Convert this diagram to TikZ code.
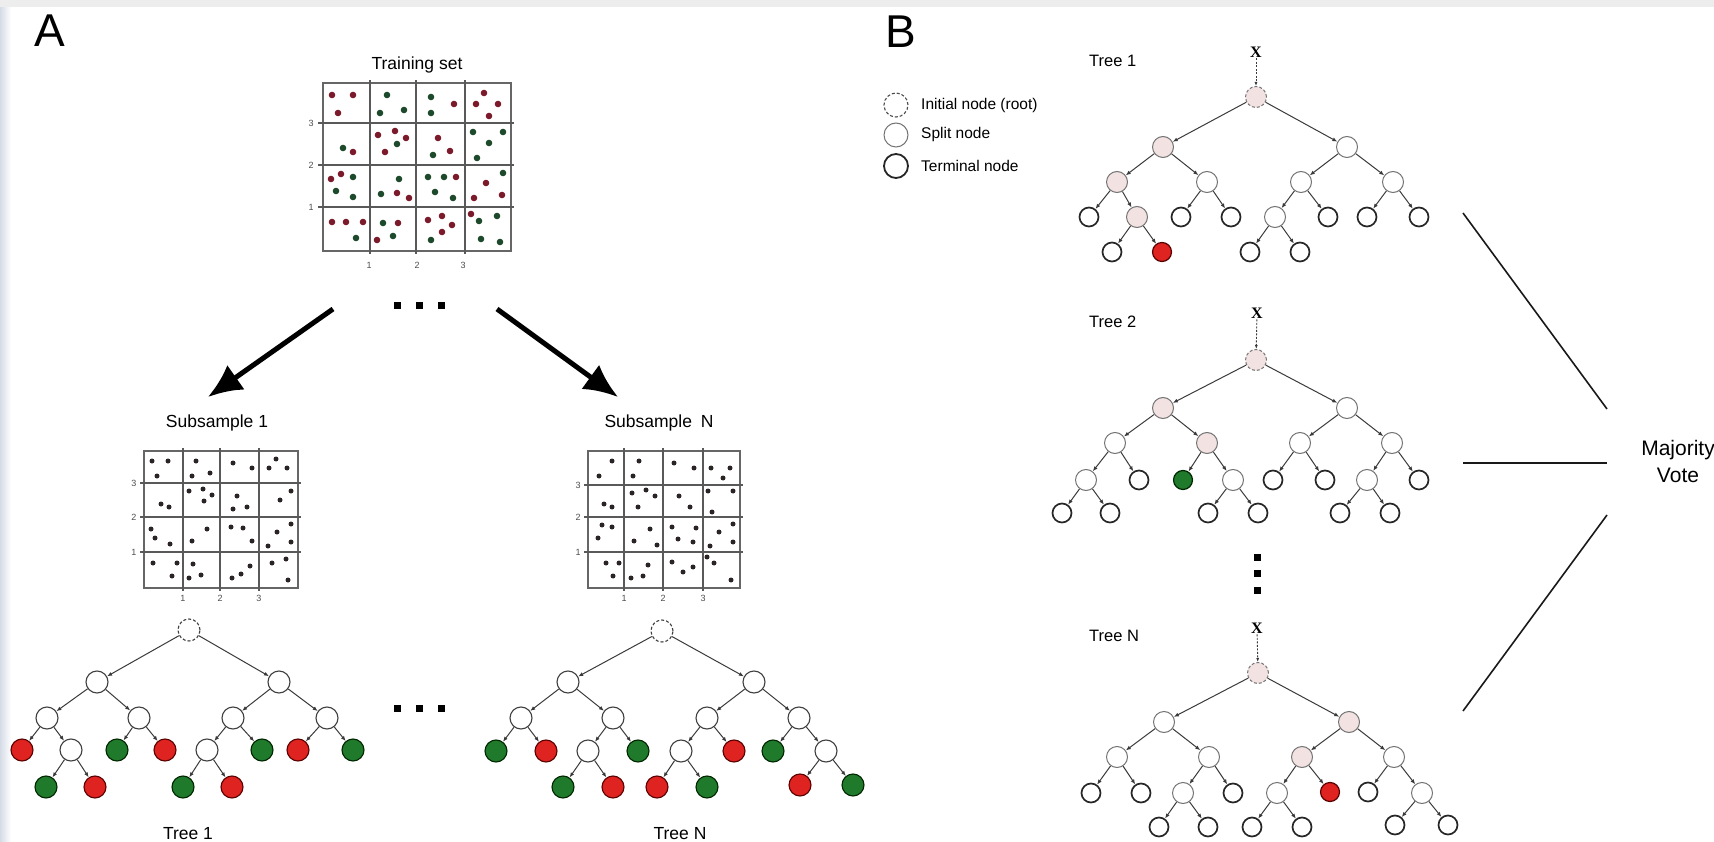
\documentclass[tikz,border=0pt]{standalone}
\usepackage{fontspec}
\setmainfont{Liberation Sans}
\newfontfamily\xserif{Liberation Serif}
\usepackage{tikz}
\usetikzlibrary{arrows.meta}

\definecolor{leafred}{HTML}{DE2320}
\definecolor{leafgreen}{HTML}{1F7A2B}
\definecolor{dotred}{HTML}{7B1A2A}
\definecolor{dotgreen}{HTML}{1E4A2C}
\definecolor{dotdark}{HTML}{2A2424}
\definecolor{pathpink}{HTML}{F2E2E2}
\definecolor{edgegray}{HTML}{3A3A3A}
\definecolor{sideband}{HTML}{D5DBE6}

\newcommand\fntpanel{\fontsize{46}{50}\selectfont}
\newcommand\fnttitle{\fontsize{17.5}{20}\selectfont}
\newcommand\fnttick{\fontsize{9}{10}\selectfont}
\newcommand\fntlegend{\fontsize{15.5}{18}\selectfont}
\newcommand\fnttree{\fontsize{16.5}{19}\selectfont}
\newcommand\fntvote{\fontsize{21}{27}\selectfont}
\newcommand\fntx{\xserif\bfseries\fontsize{16}{17}\selectfont}

\tikzset{
    nd/.style={circle, draw=black!75, line width=1.1pt, fill=white, minimum size=22pt, inner sep=0pt},
    rootA/.style={nd, dash pattern=on 3pt off 2pt},
    redA/.style={nd, fill=leafred, draw=red!35!black},
    greenA/.style={nd, fill=leafgreen, draw=green!15!black},
    splitB/.style={nd, minimum size=21pt, draw=black!55, line width=1pt},
    pathB/.style={splitB, fill=pathpink},
    rootB/.style={pathB, dash pattern=on 3pt off 2pt},
    termB/.style={nd, minimum size=19pt, line width=1.7pt, draw=black!85},
    redB/.style={termB, fill=leafred, draw=red!35!black, line width=1.2pt},
    greenB/.style={termB, fill=leafgreen, draw=green!15!black, line width=1.2pt},
    link/.style={-{Latex[length=5pt,width=4pt]}, draw=edgegray, line width=1pt},
    xlink/.style={-{Latex[length=4pt,width=3pt]}, draw=edgegray, line width=0.9pt, dash pattern=on 2pt off 1.5pt},
    bigarrow/.style={-{Latex[length=34pt,width=30pt]}, line width=5pt},
    votelink/.style={line width=1.6pt, draw=black!90},
    gridbox/.style={draw=black!60, line width=1.2pt},
    gridline/.style={draw=black!65, line width=1.4pt},
    ticklbl/.style={font=\fnttick, text=black!70, inner sep=0pt},
    sq/.style={rectangle, fill=black, minimum size=7pt, inner sep=0pt},
    title/.style={font=\fnttitle, inner sep=0pt}
}

\begin{document}
\begin{tikzpicture}[x=1pt, y=-1pt, >=latex]
            \useasboundingbox (0,0) rectangle (1714,842);
            \fill[left color=sideband, right color=white] (0,0) rectangle (11,842);
            \fill[black!7] (0,0) rectangle (1714,7);

            % A
            \node[font=\fntpanel, inner sep=0pt] (lblA) at (50,31) {A};
            \node[title] (ttrain) at (417,65) {Training set};
            \draw[gridbox] (323,83) rectangle (511,251);
            \foreach \x in {370,416,465} \draw[gridline] (\x,80) -- (\x,254);
            \foreach \y in {123,165,207} \draw[gridline] (318,\y) -- (514,\y);
            \foreach \y/\t in {123/3,165/2,207/1} \node[ticklbl] (tr-y\t) at (311,\y) {\t};
            \foreach \x/\t in {369/1,417/2,463/3} \node[ticklbl] (tr-x\t) at (\x,265) {\t};
            \foreach \x/\y in {332/95,353/95,338/113,454/104,484/93,476/104,498/104,489/116,353/152,378/135,395/131,406/138,385/152,438/138,450/151,331/179,341/174,397/193,409/198,456/177,486/183,502/195,474/198,332/222,346/222,363/222,398/223,377/240,428/220,442/216,452/225,442/232,471/214}
                \fill[dotred] (\x,\y) circle[radius=3.3pt];
            \foreach \x/\y in {387/95,380/113,404/110,431/97,431/113,343/148,397/144,433/155,473/132,503/132,489/143,477/158,353/177,336/191,353/197,399/179,381/194,428/177,444/177,435/192,453/198,503/173,356/238,383/223,393/236,431/240,479/221,497/216,481/239,500/242}
                \fill[dotgreen] (\x,\y) circle[radius=3.3pt];

            \foreach \i/\x in {1/397,2/419,3/441} \node[sq] (dtop-\i) at (\x,306) {};
            \coordinate (arL0) at (333,309);
            \coordinate (arL1) at (208,397);
            \coordinate (arR0) at (497,309);
            \coordinate (arR1) at (618,397);
            \draw[bigarrow] (arL0) -- (arL1);
            \draw[bigarrow] (arR0) -- (arR1);

            % subsample 1
            \node[title] (tsub1) at (217,423) {Subsample 1};
            \draw[gridbox] (144,451) rectangle (298,588);
            \foreach \x in {183,220,259} \draw[gridline] (\x,448) -- (\x,591);
            \foreach \y in {483,517,552} \draw[gridline] (140,\y) -- (301,\y);
            \foreach \y/\t in {483/3,517/2,552/1} \node[ticklbl] (s1-y\t) at (134,\y) {\t};
            \foreach \x/\t in {183/1,220/2,259/3} \node[ticklbl] (s1-x\t) at (\x,598) {\t};
            \foreach \x/\y in {152/461,168/461,157/476,196/461,192/476,210/473,233/463,252/468,269/468,276/459,287/468,161/504,169/507,189/491,203/489,204/501,212/495,237/496,233/509,247/507,280/500,291/491,151/529,155/538,170/544,192/541,207/529,231/527,243/528,252/541,268/546,277/532,291/524,291/542,153/563,177/563,172/576,193/564,189/578,201/575,232/578,241/574,250/566,272/563,286/559,288/580}
                \fill[dotdark] (\x,\y) circle[radius=2.5pt];

            % subsample N
            \node[title] (tsubN) at (659,423) {Subsample\hspace{0.5em}N};
            \draw[gridbox] (588,451) rectangle (740,588);
            \foreach \x in {624,663,703} \draw[gridline] (\x,448) -- (\x,591);
            \foreach \y in {485,517,552} \draw[gridline] (584,\y) -- (743,\y);
            \foreach \y/\t in {485/3,517/2,552/1} \node[ticklbl] (sN-y\t) at (578,\y) {\t};
            \foreach \x/\t in {624/1,663/2,703/3} \node[ticklbl] (sN-x\t) at (\x,598) {\t};
            \foreach \x/\y in {612/461,599/476,639/461,633/476,674/463,694/468,711/468,723/478,730/468,604/504,612/507,632/493,646/490,655/496,638/507,679/496,690/507,708/491,733/491,712/512,602/525,612/527,598/538,650/529,634/541,657/545,672/527,696/528,678/539,693/542,719/532,733/524,733/542,710/546,606/563,619/563,613/576,631/578,643/576,648/565,672/562,683/572,693/567,707/557,714/563,731/580}
                \fill[dotdark] (\x,\y) circle[radius=2.5pt];

            % tree 1 (A)
            \node[rootA] (a1-0) at (189,630) {};
            \node[nd] (a1-L) at (97,682) {};
            \node[nd] (a1-R) at (279,682) {};
            \node[nd] (a1-LL) at (47,718) {};
            \node[nd] (a1-LR) at (139,718) {};
            \node[nd] (a1-RL) at (233,718) {};
            \node[nd] (a1-RR) at (327,718) {};
            \node[redA] (a1-LLL) at (22,750) {};
            \node[nd] (a1-LLR) at (71,750) {};
            \node[greenA] (a1-LRL) at (117,750) {};
            \node[redA] (a1-LRR) at (165,750) {};
            \node[nd] (a1-RLL) at (207,750) {};
            \node[greenA] (a1-RLR) at (262,750) {};
            \node[redA] (a1-RRL) at (298,750) {};
            \node[greenA] (a1-RRR) at (353,750) {};
            \node[greenA] (a1-LLRL) at (46,787) {};
            \node[redA] (a1-LLRR) at (95,787) {};
            \node[greenA] (a1-RLLL) at (183,787) {};
            \node[redA] (a1-RLLR) at (232,787) {};
            \foreach \p/\c in {0/L,0/R,L/LL,L/LR,R/RL,R/RR,LL/LLL,LL/LLR,LR/LRL,LR/LRR,RL/RLL,RL/RLR,RR/RRL,RR/RRR,LLR/LLRL,LLR/LLRR,RLL/RLLL,RLL/RLLR}
                \draw[link] (a1-\p) -- (a1-\c);
            \node[title, anchor=base] (capA1) at (188,839) {Tree 1};

            \foreach \i/\x in {1/397,2/419,3/441} \node[sq] (dmid-\i) at (\x,708) {};

            % tree N (A)
            \node[rootA] (aN-0) at (662,631) {};
            \node[nd] (aN-L) at (568,682) {};
            \node[nd] (aN-R) at (754,682) {};
            \node[nd] (aN-LL) at (521,718) {};
            \node[nd] (aN-LR) at (613,718) {};
            \node[nd] (aN-RL) at (707,718) {};
            \node[nd] (aN-RR) at (799,718) {};
            \node[greenA] (aN-LLL) at (496,751) {};
            \node[redA] (aN-LLR) at (546,751) {};
            \node[nd] (aN-LRL) at (588,751) {};
            \node[greenA] (aN-LRR) at (638,751) {};
            \node[nd] (aN-RLL) at (681,751) {};
            \node[redA] (aN-RLR) at (734,751) {};
            \node[greenA] (aN-RRL) at (773,751) {};
            \node[nd] (aN-RRR) at (826,751) {};
            \node[greenA] (aN-LRLL) at (563,787) {};
            \node[redA] (aN-LRLR) at (613,787) {};
            \node[redA] (aN-RLLL) at (657,787) {};
            \node[greenA] (aN-RLLR) at (707,787) {};
            \node[redA] (aN-RRRL) at (800,785) {};
            \node[greenA] (aN-RRRR) at (853,785) {};
            \foreach \p/\c in {0/L,0/R,L/LL,L/LR,R/RL,R/RR,LL/LLL,LL/LLR,LR/LRL,LR/LRR,RL/RLL,RL/RLR,RR/RRL,RR/RRR,LRL/LRLL,LRL/LRLR,RLL/RLLL,RLL/RLLR,RRR/RRRL,RRR/RRRR}
                \draw[link] (aN-\p) -- (aN-\c);
            \node[title, anchor=base] (capAN) at (680,839) {Tree N};

            % B
            \node[font=\fntpanel, inner sep=0pt] (lblB) at (901,32) {B};
            \node[nd, minimum size=24pt, draw=black!70, dash pattern=on 3pt off 2pt] (leg-root) at (896,105) {};
            \node[nd, minimum size=24pt, draw=black!55, line width=1pt] (leg-split) at (896,135) {};
            \node[nd, minimum size=24pt, draw=black!85, line width=1.8pt] (leg-term) at (896,166) {};
            \node[font=\fntlegend, anchor=west, inner sep=0pt] (leg-root-t) at (921,105) {Initial node (root)};
            \node[font=\fntlegend, anchor=west, inner sep=0pt] (leg-split-t) at (921,134) {Split node};
            \node[font=\fntlegend, anchor=west, inner sep=0pt] (leg-term-t) at (921,166) {Terminal node};

            % tree 1 (B)
            \node[font=\fnttree, anchor=west, inner sep=0pt] (tb1) at (1089,61) {Tree 1};
            \node[font=\fntx, inner sep=1pt] (b1-x) at (1256,52) {X};
            \node[rootB] (b1-0) at (1256,97) {};
            \node[pathB] (b1-L) at (1163,147) {};
            \node[splitB] (b1-R) at (1347,147) {};
            \node[pathB] (b1-LL) at (1117,182) {};
            \node[splitB] (b1-LR) at (1207,182) {};
            \node[splitB] (b1-RL) at (1301,182) {};
            \node[splitB] (b1-RR) at (1393,182) {};
            \node[termB] (b1-LLL) at (1089,217) {};
            \node[pathB] (b1-LLR) at (1137,217) {};
            \node[termB] (b1-LRL) at (1181,217) {};
            \node[termB] (b1-LRR) at (1231,217) {};
            \node[splitB] (b1-RLL) at (1275,217) {};
            \node[termB] (b1-RLR) at (1328,217) {};
            \node[termB] (b1-RRL) at (1367,217) {};
            \node[termB] (b1-RRR) at (1419,217) {};
            \node[termB] (b1-LLRL) at (1112,252) {};
            \node[redB] (b1-LLRR) at (1162,252) {};
            \node[termB] (b1-RLLL) at (1250,252) {};
            \node[termB] (b1-RLLR) at (1300,252) {};
            \draw[xlink] (b1-x) -- (b1-0);
            \foreach \p/\c in {0/L,0/R,L/LL,L/LR,R/RL,R/RR,LL/LLL,LL/LLR,LR/LRL,LR/LRR,RL/RLL,RL/RLR,RR/RRL,RR/RRR,LLR/LLRL,LLR/LLRR,RLL/RLLL,RLL/RLLR}
                \draw[link] (b1-\p) -- (b1-\c);

            % tree 2 (B)
            \node[font=\fnttree, anchor=west, inner sep=0pt] (tb2) at (1089,322) {Tree 2};
            \node[font=\fntx, inner sep=1pt] (b2-x) at (1257,313) {X};
            \node[rootB] (b2-0) at (1256,360) {};
            \node[pathB] (b2-L) at (1163,408) {};
            \node[splitB] (b2-R) at (1347,408) {};
            \node[splitB] (b2-LL) at (1115,443) {};
            \node[pathB] (b2-LR) at (1207,443) {};
            \node[splitB] (b2-RL) at (1300,443) {};
            \node[splitB] (b2-RR) at (1392,443) {};
            \node[splitB] (b2-LLL) at (1086,480) {};
            \node[termB] (b2-LLR) at (1139,480) {};
            \node[greenB] (b2-LRL) at (1183,480) {};
            \node[splitB] (b2-LRR) at (1233,480) {};
            \node[termB] (b2-RLL) at (1273,480) {};
            \node[termB] (b2-RLR) at (1325,480) {};
            \node[splitB] (b2-RRL) at (1367,480) {};
            \node[termB] (b2-RRR) at (1419,480) {};
            \node[termB] (b2-LLLL) at (1062,513) {};
            \node[termB] (b2-LLLR) at (1110,513) {};
            \node[termB] (b2-LRRL) at (1208,513) {};
            \node[termB] (b2-LRRR) at (1258,513) {};
            \node[termB] (b2-RRLL) at (1340,513) {};
            \node[termB] (b2-RRLR) at (1390,513) {};
            \draw[xlink] (b2-x) -- (b2-0);
            \foreach \p/\c in {0/L,0/R,L/LL,L/LR,R/RL,R/RR,LL/LLL,LL/LLR,LR/LRL,LR/LRR,RL/RLL,RL/RLR,RR/RRL,RR/RRR,LLL/LLLL,LLL/LLLR,LRR/LRRL,LRR/LRRR,RRL/RRLL,RRL/RRLR}
                \draw[link] (b2-\p) -- (b2-\c);

            \foreach \i/\y in {1/557,2/573,3/590} \node[sq] (dvert-\i) at (1257,\y) {};

            % tree N (B)
            \node[font=\fnttree, anchor=west, inner sep=0pt] (tbN) at (1089,636) {Tree N};
            \node[font=\fntx, inner sep=1pt] (bN-x) at (1257,628) {X};
            \node[rootB] (bN-0) at (1258,673) {};
            \node[splitB] (bN-L) at (1164,722) {};
            \node[pathB] (bN-R) at (1349,722) {};
            \node[splitB] (bN-LL) at (1117,757) {};
            \node[splitB] (bN-LR) at (1209,757) {};
            \node[pathB] (bN-RL) at (1302,757) {};
            \node[splitB] (bN-RR) at (1394,757) {};
            \node[termB] (bN-LLL) at (1091,793) {};
            \node[termB] (bN-LLR) at (1141,793) {};
            \node[splitB] (bN-LRL) at (1183,793) {};
            \node[termB] (bN-LRR) at (1233,793) {};
            \node[splitB] (bN-RLL) at (1277,793) {};
            \node[redB] (bN-RLR) at (1330,792) {};
            \node[termB] (bN-RRL) at (1368,792) {};
            \node[splitB] (bN-RRR) at (1422,793) {};
            \node[termB] (bN-LRLL) at (1159,827) {};
            \node[termB] (bN-LRLR) at (1208,827) {};
            \node[termB] (bN-RLLL) at (1252,827) {};
            \node[termB] (bN-RLLR) at (1302,827) {};
            \node[termB] (bN-RRRL) at (1395,825) {};
            \node[termB] (bN-RRRR) at (1448,825) {};
            \draw[xlink] (bN-x) -- (bN-0);
            \foreach \p/\c in {0/L,0/R,L/LL,L/LR,R/RL,R/RR,LL/LLL,LL/LLR,LR/LRL,LR/LRR,RL/RLL,RL/RLR,RR/RRL,RR/RRR,LRL/LRLL,LRL/LRLR,RLL/RLLL,RLL/RLLR,RRR/RRRL,RRR/RRRR}
                \draw[link] (bN-\p) -- (bN-\c);

            % vote
            \node[font=\fntvote, align=center, inner sep=0pt] (vote) at (1678,461) {Majority\\Vote};
            \coordinate (v1a) at (1463,213);
            \coordinate (v1b) at (1607,409);
            \coordinate (v2a) at (1463,463);
            \coordinate (v2b) at (1607,463);
            \coordinate (v3a) at (1607,515);
            \coordinate (v3b) at (1463,711);
            \draw[votelink] (v1a) -- (v1b);
            \draw[votelink] (v2a) -- (v2b);
            \draw[votelink] (v3a) -- (v3b);
\end{tikzpicture}
\end{document}
